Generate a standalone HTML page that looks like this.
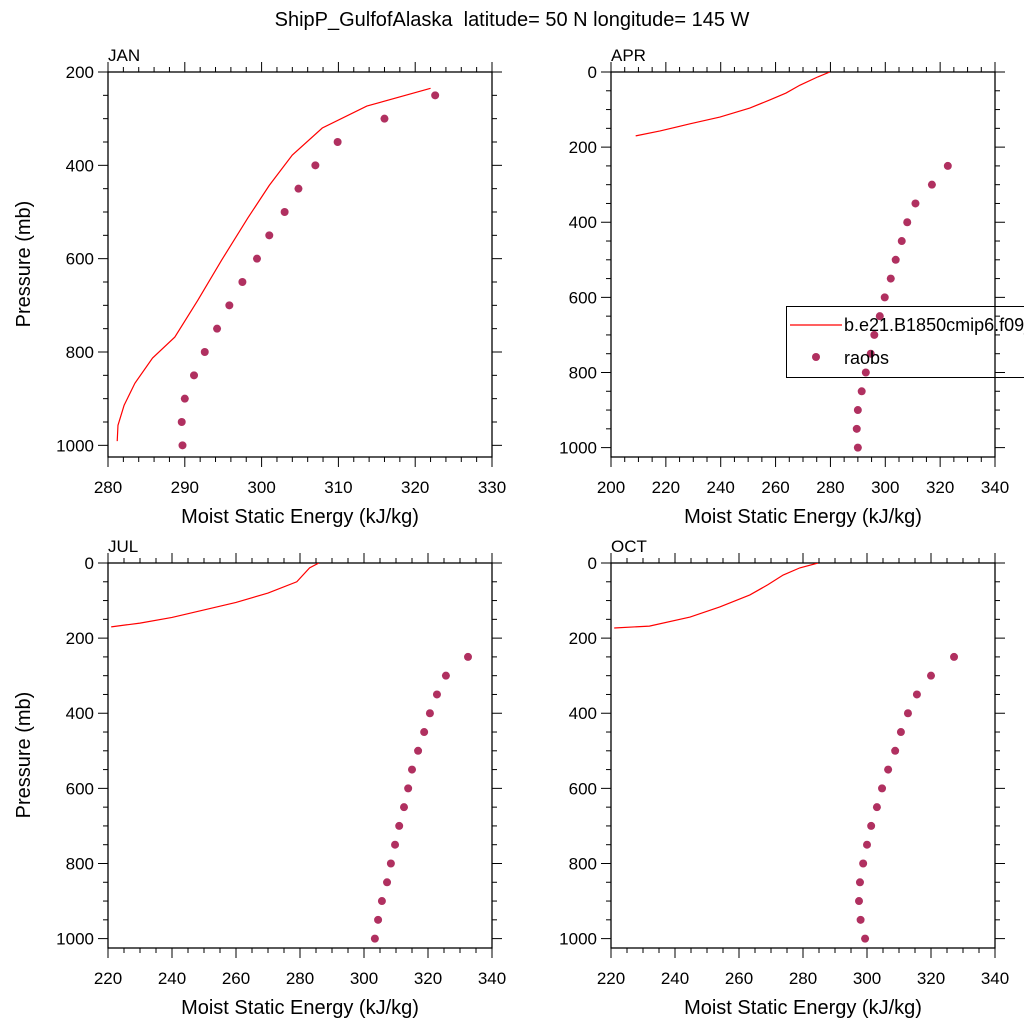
<!DOCTYPE html>
<html><head><meta charset="utf-8"><style>
body{margin:0;background:#fff;}
svg{font-family:"Liberation Sans",sans-serif;}
</style></head><body>
<svg id="chart" width="1024" height="1024" viewBox="0 0 1024 1024" xmlns="http://www.w3.org/2000/svg">
<text x="512" y="26" font-size="20" text-anchor="middle">ShipP_GulfofAlaska&#160; latitude= 50 N longitude= 145 W</text>
</svg>
<script>
const janLineX=[322,313.7,307.9,304,301,298.2,294.8,291.7,288.7,285.8,283.5,282.1,281.3,281.2];
const janLineP=[235,273,320,378,443,513,603,689,768,813,867,914,957,991];
const obsP=[250,300,350,400,450,500,550,600,650,700,750,800,850,900,950,1000];
const janObs=[322.6,316,309.9,307,304.8,303,301,299.4,297.5,295.8,294.2,292.6,291.2,290,289.6,289.7];
const aprLineX=[279.8,275.4,268.9,263.8,258,250.6,239.7,228.8,217.9,209];
const aprLineP=[0,13,35,56,74,96,120,138,157,170];
const aprObs=[322.8,317,311,308,306,303.8,302,299.8,298,296,294.7,292.9,291.4,290,289.6,290];
const julLineX=[285.9,283,279,270,260,250,240,230,221];
const julLineP=[0,13,50,80,105,125,145,160,170];
const julObs=[332.5,325.6,322.8,320.6,318.8,316.9,315,313.8,312.5,311,309.7,308.4,307.2,305.6,304.4,303.4];
const octLineX=[284.7,279,273.8,269,263.4,254,244.7,232,221];
const octLineP=[0,13,32,58,85,117,144,168,173];
const octObs=[327.2,320,315.6,312.8,310.6,308.8,306.6,304.7,303.1,301.3,300,298.8,297.8,297.5,298,299.4];
const janXTicks=[280,290,300,310,320,330];
const janYTicks=[200,400,600,800,1000];
const aprXTicks=[200,220,240,260,280,300,320,340];
const julXTicks=[220,240,260,280,300,320,340];
const yTicks0=[0,200,400,600,800,1000];

const NS="http://www.w3.org/2000/svg";
const svg=document.getElementById('chart');
function el(t,a,p){const e=document.createElementNS(NS,t);for(const k in a)e.setAttribute(k,a[k]);(p||svg).appendChild(e);return e;}

function panel(o){
  const g=el('g',{});
  
  
  const L=o.x0,R=o.x0+384,T=o.y0,B=o.y0+385;
  const sx=v=>L+(v-o.xmin)/(o.xmax-o.xmin)*384;
  const sy=p=>T+(p-o.pmin)/(o.pmax-o.pmin)*385;
  const cid='clip-'+o.name;
  const cp=el('clipPath',{id:cid},g);el('rect',{x:L,y:T,width:384,height:385},cp);
  for(let v=o.xmin;v<=o.xmax+1e-6;v+=o.xminor){
    const x=sx(v);const maj=o.xt.some(t=>Math.abs(t-v)<1e-6);const len=maj?10:5;
    el('line',{x1:x,y1:B,x2:x,y2:B+len,stroke:'#000','stroke-width':1},g);
    el('line',{x1:x,y1:T,x2:x,y2:T-len,stroke:'#000','stroke-width':1},g);
  }
  for(let p=o.pmin;p<=o.pmax+1e-6;p+=50){
    const y=sy(p);const maj=o.yt.includes(p);const len=maj?10:5;
    el('line',{x1:L,y1:y,x2:L-len,y2:y,stroke:'#000','stroke-width':1},g);
    el('line',{x1:R,y1:y,x2:R+len,y2:y,stroke:'#000','stroke-width':1},g);
  }
  el('rect',{x:L,y:T,width:384,height:385,fill:'none',stroke:'#000','stroke-width':1.3},g);
  o.xt.forEach(v=>{const t=el('text',{x:sx(v),y:B+36,'font-size':17,'text-anchor':'middle'},g);t.textContent=v;
    
    });
  o.yt.forEach(p=>{const t=el('text',{x:L-14,y:sy(p)+6,'font-size':17,'text-anchor':'end'},g);t.textContent=p;
    
    });
  const xt=el('text',{x:L+192,y:B+66,'font-size':20,'text-anchor':'middle'},g);xt.textContent='Moist Static Energy (kJ/kg)';
  
  
  if(o.ylab){const yt=el('text',{x:0,y:0,'font-size':20,'text-anchor':'middle',transform:`translate(${L-78},${T+192}) rotate(-90)`},g);yt.textContent='Pressure (mb)';
    
    }
  const pt=el('text',{x:L,y:T-11,'font-size':17},g);pt.textContent=o.label;
  
  
  const line=el('polyline',{points:o.lx.map((v,i)=>sx(v)+','+sy(o.lp[i])).join(' '),fill:'none',stroke:'#ff0000','stroke-width':1.2,'clip-path':`url(#${cid})`},g);
  
  
  o.obs.forEach((v,i)=>{const c=el('circle',{cx:sx(v),cy:sy(obsP[i]),r:4,fill:'#b03060'},g);
    
    });
}
panel({name:'jan',label:'JAN',x0:108,y0:72,xmin:280,xmax:330,xminor:2,pmin:200,pmax:1025,xt:janXTicks,yt:janYTicks,lx:janLineX,lp:janLineP,obs:janObs,ylab:true});
panel({name:'apr',label:'APR',x0:611,y0:72,xmin:200,xmax:340,xminor:5,pmin:0,pmax:1025,xt:aprXTicks,yt:yTicks0,lx:aprLineX,lp:aprLineP,obs:aprObs,ylab:false});
panel({name:'jul',label:'JUL',x0:108,y0:563,xmin:220,xmax:340,xminor:5,pmin:0,pmax:1025,xt:julXTicks,yt:yTicks0,lx:julLineX,lp:julLineP,obs:julObs,ylab:true});
panel({name:'oct',label:'OCT',x0:611,y0:563,xmin:220,xmax:340,xminor:5,pmin:0,pmax:1025,xt:julXTicks,yt:yTicks0,lx:octLineX,lp:octLineP,obs:octObs,ylab:false});
const lg=el('g',{});


el('rect',{x:786.5,y:306.5,width:250,height:71,fill:'none',stroke:'#000','stroke-width':1},lg);
el('line',{x1:790,y1:325,x2:842,y2:325,stroke:'#ff0000','stroke-width':1.2},lg);
const t1=el('text',{x:844,y:331,'font-size':18},lg);t1.textContent='b.e21.B1850cmip6.f09_g17';


el('circle',{cx:816,cy:357,r:4,fill:'#b03060'},lg);
const t2=el('text',{x:844,y:364,'font-size':18},lg);t2.textContent='raobs';


</script>
</body></html>
